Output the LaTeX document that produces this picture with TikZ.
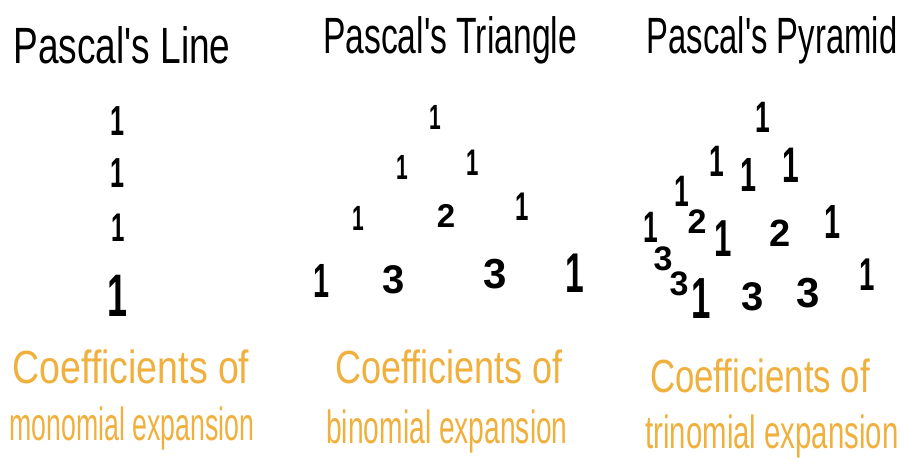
\documentclass[tikz,border=0pt]{standalone}
\usepackage{fontspec}
\setmainfont{Liberation Sans}
\definecolor{handorange}{RGB}{240,176,62}
\newcommand\thinone{\scalebox{0.6}[1]{1}}
\begin{document}
\begin{tikzpicture}[x=1pt,y=-1pt,
  title/.style={font=\fontsize{34}{36}\selectfont, anchor=base, inner sep=0pt},
  num/.style={font=\fontsize{#1}{#1}\selectfont\bfseries, anchor=center, inner sep=0pt},
  caption/.style={font=\fontsize{30}{32}\selectfont, text=handorange, anchor=base, inner sep=0pt}]
\useasboundingbox (0,0) rectangle (902,461);
% titles
\node[title] (tline) at (122,63) {\scalebox{1.09}[1.5]{Pascal\textquotesingle s Line}};
\node[title] (ttri) at (450,53) {\scalebox{0.99}[1.5]{Pascal\textquotesingle s Triangle}};
\node[title] (tpyr) at (772,53) {\scalebox{0.965}[1.5]{Pascal\textquotesingle s Pyramid}};
% line
\node[num=42] (l1) at (118,121) {\thinone};
\node[num=42] (l2) at (118,173) {\thinone};
\node[num=40] (l3) at (118,228) {\thinone};
\node[num=60] (l4) at (118,296) {\thinone};
% triangle
\node[num=35] (t11) at (435,117) {\thinone};
\node[num=35] (t21) at (402,167) {\thinone};
\node[num=37] (t22) at (473,163) {\thinone};
\node[num=35] (t31) at (358,218) {\thinone};
\node[num=33] (t32) at (446,216) {2};
\node[num=40] (t33) at (522,207) {\thinone};
\node[num=48] (t41) at (322,281) {\thinone};
\node[num=40] (t42) at (394,280) {3};
\node[num=42] (t43) at (495,274) {3};
\node[num=56] (t44) at (575,273) {\thinone};
% pyramid
\node[num=44] (p1) at (763,117) {\thinone};
\node[num=44] (p21) at (717,161) {\thinone};
\node[num=48] (p22) at (748,175) {\thinone};
\node[num=50] (p23) at (791,165) {\thinone};
\node[num=44] (p31) at (682,191) {\thinone};
\node[num=34] (p32) at (697,222) {2};
\node[num=52] (p33) at (723,239) {\thinone};
\node[num=38] (p34) at (780,233) {2};
\node[num=48] (p35) at (832,222) {\thinone};
\node[num=44] (p41) at (651,227) {\thinone};
\node[num=34] (p42) at (663,259) {3};
\node[num=34] (p43) at (679,284) {3};
\node[num=58] (p44) at (701,299) {\thinone};
\node[num=40] (p45) at (753,297) {3};
\node[num=42] (p46) at (808,293) {3};
\node[num=46] (p47) at (867,275) {\thinone};
% captions
\node[caption] (c1a) at (131,383) {\scalebox{1.25}[1.55]{Coefficients of}};
\node[caption] (c1b) at (132,440) {\scalebox{0.89}[1.55]{monomial expansion}};
\node[caption] (c2a) at (449,383) {\scalebox{1.2}[1.55]{Coefficients of}};
\node[caption] (c2b) at (447,443) {\scalebox{0.94}[1.55]{binomial expansion}};
\node[caption] (c3a) at (760,392) {\scalebox{1.16}[1.55]{Coefficients of}};
\node[caption] (c3b) at (772,448) {\scalebox{0.98}[1.55]{trinomial expansion}};
\end{tikzpicture}
\end{document}
